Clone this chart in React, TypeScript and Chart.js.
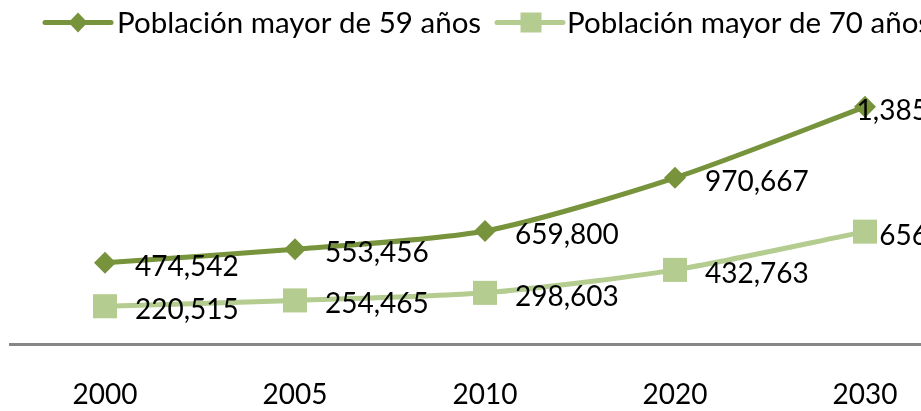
import React, { useEffect, useRef } from "react";
import { Chart, registerables } from "chart.js";

Chart.register(...registerables);

const years = ["2000", "2005", "2010", "2020", "2030"];
const mayor59 = [474542, 553456, 659800, 970667, 1385000];
const mayor70 = [220515, 254465, 298603, 432763, 656000];
const seriesNames = ["Población mayor de 59 años", "Población mayor de 70 años"];

const DARK = "#77933C";
const LIGHT = "#B4CC8F";
const FONT = "Lato, 'Open Sans', sans-serif";
const CANVAS_W = 975;
const CANVAS_H = 411;
const LABEL_LIMIT = 983;

const fmt = (v: number) => v.toLocaleString("en-US");

const labelPlugin = {
  id: "valueLabels",
  afterDatasetsDraw(chart: any) {
    const ctx = chart.ctx;
    ctx.save();
    ctx.font = `28px ${FONT}`;
    ctx.fillStyle = "#000000";
    ctx.textBaseline = "middle";
    ctx.textAlign = "left";
    chart.data.datasets.forEach((ds: any, di: number) => {
      const meta = chart.getDatasetMeta(di);
      meta.data.forEach((pt: any, i: number) => {
        const text = fmt(ds.data[i]);
        const w = ctx.measureText(text).width;
        let x = pt.x + 30;
        if (x + w > LABEL_LIMIT) x = LABEL_LIMIT - w;
        ctx.fillText(text, x, pt.y + 4);
      });
    });
    ctx.restore();
  },
};

const legendPlugin = {
  id: "customLegend",
  afterDraw(chart: any) {
    const ctx = chart.ctx;
    ctx.save();
    const y = 22.5;
    const items = [
      { x0: 45, x1: 111, mx: 78, color: DARK, shape: "diamond", tx: 117, text: seriesNames[0] },
      { x0: 497, x1: 563, mx: 531, color: LIGHT, shape: "square", tx: 567, text: seriesNames[1] },
    ];
    items.forEach((it) => {
      ctx.strokeStyle = it.color;
      ctx.lineWidth = 5;
      ctx.lineCap = "round";
      ctx.beginPath();
      ctx.moveTo(it.x0, y);
      ctx.lineTo(it.x1, y);
      ctx.stroke();
      ctx.fillStyle = it.color;
      ctx.beginPath();
      if (it.shape === "diamond") {
        ctx.moveTo(it.mx, y - 10);
        ctx.lineTo(it.mx + 9.5, y);
        ctx.lineTo(it.mx, y + 10);
        ctx.lineTo(it.mx - 9.5, y);
        ctx.closePath();
      } else {
        ctx.rect(it.mx - 10.5, y - 10, 21, 20);
      }
      ctx.fill();
      ctx.fillStyle = "#000000";
      ctx.font = `29.5px ${FONT}`;
      ctx.textBaseline = "middle";
      ctx.textAlign = "left";
      ctx.fillText(it.text, it.tx, y + 1);
    });
    ctx.restore();
  },
};

export default function App() {
  const ref = useRef<HTMLCanvasElement>(null);
  useEffect(() => {
    if (!ref.current) return;
    const chart = new Chart(ref.current, {
      type: "line",
      data: {
        labels: years,
        datasets: [
          {
            label: seriesNames[0],
            data: mayor59,
            borderColor: DARK,
            backgroundColor: DARK,
            borderWidth: 5,
            pointStyle: "rectRot",
            pointRadius: 11,
            pointBorderWidth: 0,
            pointBackgroundColor: DARK,
            tension: 0.25,
            clip: false,
          },
          {
            label: seriesNames[1],
            data: mayor70,
            borderColor: LIGHT,
            backgroundColor: LIGHT,
            borderWidth: 5,
            pointStyle: "rect",
            pointRadius: 17,
            pointBorderWidth: 0,
            pointBackgroundColor: LIGHT,
            tension: 0.25,
            clip: false,
          },
        ],
      },
      options: {
        responsive: false,
        animation: false,
        devicePixelRatio: 1,
        layout: { autoPadding: false, padding: { left: 10, right: CANVAS_W - 960, top: 70, bottom: 3 } },
        plugins: { legend: { display: false }, tooltip: { enabled: false } },
        scales: {
          x: {
            offset: true,
            grid: { display: false, drawTicks: false },
            border: { display: true, color: "#868686", width: 3 },
            ticks: { color: "#000000", font: { family: FONT, size: 28 }, padding: 34, maxRotation: 0, autoSkip: false },
            afterFit: (s: any) => {
              s.height = 64;
              s.paddingLeft = 0;
              s.paddingRight = 0;
            },
          },
          y: {
            display: false,
            min: 0,
            max: 1600000,
          },
        },
      },
      plugins: [labelPlugin, legendPlugin],
    });
    return () => chart.destroy();
  }, []);
  return (
    <div style={{ position: "fixed", left: 0, top: 0, width: 921, height: 411, overflow: "hidden", background: "#fff" }}>
      <canvas ref={ref} width={CANVAS_W} height={CANVAS_H} style={{ width: CANVAS_W, height: CANVAS_H, display: "block" }} />
    </div>
  );
}
